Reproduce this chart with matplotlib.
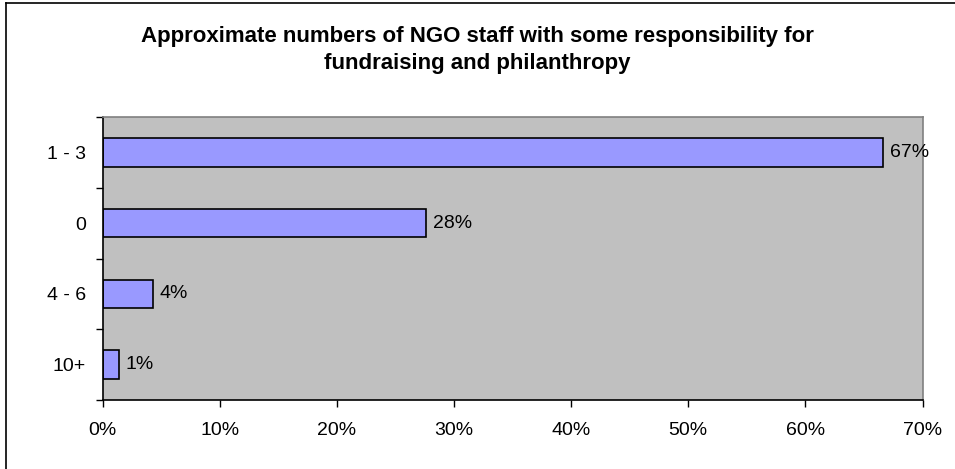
import numpy as np
import matplotlib.pyplot as plt
from matplotlib.lines import Line2D

# data
categories = ['1 - 3', '0', '4 - 6', '10+']
values = [66.6, 27.6, 4.3, 1.4]
labels = ['67%', '28%', '4%', '1%']
xticks = [0, 10, 20, 30, 40, 50, 60, 70]

plt.rcParams['font.family'] = ['Liberation Sans', 'DejaVu Sans']

W, H = 955, 469
fig = plt.figure(figsize=(W / 100, H / 100), dpi=100)
ax = fig.add_axes([102.5 / W, 1 - 400 / H, 820 / W, 283 / H])
ax.set_facecolor('#c0c0c0')

# categories from top to bottom
y = np.arange(len(categories))[::-1]
ax.barh(y, values, height=0.4, color='#9999ff', edgecolor='black', linewidth=1.2)
for yi, v, lab in zip(y, values, labels):
    ax.text(v + 0.6, yi, lab, va='center', ha='left', fontsize=14)

ax.set_xlim(0, 70)
ax.set_ylim(-0.5, len(categories) - 0.5)
ax.set_xticks(xticks)
ax.set_xticklabels([f'{t}%' for t in xticks], fontsize=14)
ax.set_yticks(y)
ax.set_yticklabels(categories, fontsize=14)
ax.set_yticks(np.arange(len(categories) + 1) - 0.5, minor=True)

ax.tick_params(axis='y', which='major', length=0, pad=12)
ax.tick_params(axis='y', which='minor', length=5, width=1, direction='out')
ax.tick_params(axis='x', length=5, width=1, direction='out', pad=11)

ax.spines['left'].set_color('black')
ax.spines['bottom'].set_color('black')
ax.spines['top'].set_color('#808080')
ax.spines['right'].set_color('#808080')
for s in ax.spines.values():
    s.set_linewidth(1.2)

fig.text(0.5, 1 - 50 / H,
         'Approximate numbers of NGO staff with some responsibility for\nfundraising and philanthropy',
         ha='center', va='center', fontsize=16, fontweight='bold', linespacing=1.35)

# outer chart border (left and top visible)
fig.add_artist(Line2D([6 / W, 6 / W], [0, 1 - 3 / H], color='black', lw=1.2))
fig.add_artist(Line2D([6 / W, 1], [1 - 3 / H, 1 - 3 / H], color='black', lw=1.2))

fig.savefig('out.png', dpi=100)
